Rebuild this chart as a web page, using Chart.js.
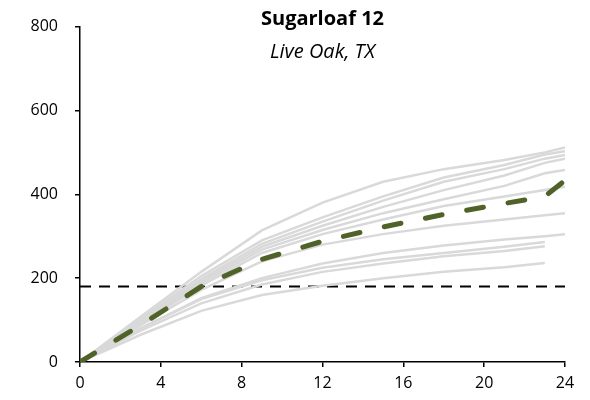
<!DOCTYPE html>
<html>
<head>
<meta charset="utf-8">
<script src="https://cdn.jsdelivr.net/npm/chart.js@4"></script>
<style>
    body { margin: 0; background: #fff; }
    #wrap { position: relative; width: 590px; height: 400px; }
    .title { position: absolute; left: 80px; width: 485px; text-align: center; color: #000; font-family: "Open Sans", sans-serif; }
    #title { top: 4px; font-size: 20px; font-weight: bold; }
    #subtitle { top: 37px; font-size: 20px; font-style: italic; }
</style>
</head>
<body>
<div id="wrap">
    <canvas id="chart" width="590" height="400"></canvas>
    <div class="title" id="title">Sugarloaf 12</div>
    <div class="title" id="subtitle">Live Oak, TX</div>
</div>
<script>
const months = [0, 3, 6, 9, 12, 15, 18, 21, 23, 24];
const xTicks = [0, 4, 8, 12, 16, 20, 24];
const yTicks = [0, 200, 400, 600, 800];
const threshold = 180;

// individual plots (grey), null = not measured
const plot1 = [0, 108, 215, 314, 380, 430, 460, 482, 500, 512];
const plot2 = [0, 104, 205, 290, 345, 395, 440, 470, 495, 503];
const plot3 = [0, 100, 198, 282, 335, 385, 430, 460, 485, 494];
const plot4 = [0, 98, 193, 275, 325, 370, 410, 445, 475, 485];
const plot5 = [0, 95, 188, 268, 315, 355, 388, 420, 450, 458];
const plot6 = [0, 92, 182, 260, 305, 340, 372, 395, 410, 418];
const plot7 = [0, 88, 172, 240, 280, 305, 325, 340, 350, 355];
const plot8 = [0, 80, 152, 200, 235, 260, 278, 292, 300, 305];
const plot9 = [0, 80, 150, 195, 225, 245, 260, 275, 286, null];
const plot10 = [0, 75, 140, 185, 215, 235, 252, 265, 276, null];
const plot11 = [0, 65, 122, 160, 182, 200, 215, 226, 236, null];
const plots = [plot1, plot2, plot3, plot4, plot5, plot6, plot7, plot8, plot9, plot10, plot11];

// average of plots (green dashed)
const average = [0, 88, 180, 245, 288, 322, 352, 378, 395, 433];

const toPoints = vals => months.map((m, i) => ({ x: m, y: vals[i] })).filter(p => p.y !== null);

const datasets = [{
    data: toPoints(average),
    borderColor: "#4f6228",
    borderWidth: 5,
    borderDash: [17, 25],
    borderCapStyle: "round",
    pointRadius: 0,
    order: 0
}];
plots.forEach(p => {
    datasets.push({
        data: toPoints(p),
        borderColor: "#d9d9d9",
        borderWidth: 2.5,
        pointRadius: 0,
        order: 1
    });
});
datasets.push({
    data: [{ x: 0, y: threshold }, { x: 24, y: threshold }],
    borderColor: "#000",
    borderWidth: 2,
    borderDash: [11, 8],
    pointRadius: 0,
    order: 2
});

const tickFont = { family: "Open Sans", size: 16 };

new Chart(document.getElementById("chart"), {
    type: "line",
    data: { datasets: datasets },
    options: {
        responsive: false,
        animation: false,
        layout: { padding: { left: 0, right: 25, top: 26, bottom: 0 } },
        plugins: { legend: { display: false }, tooltip: { enabled: false } },
        scales: {
            x: {
                type: "linear",
                min: 0,
                max: 24,
                afterBuildTicks: s => { s.ticks = xTicks.map(v => ({ value: v })); },
                afterFit: s => { s.height = 38; },
                ticks: { color: "#000", font: tickFont, padding: 7, maxRotation: 0 },
                grid: { display: true, drawOnChartArea: false, drawTicks: true, tickLength: 5, color: "#000", lineWidth: 1.5 },
                border: { color: "#000", width: 1.5 }
            },
            y: {
                min: 0,
                max: 800,
                afterBuildTicks: s => { s.ticks = yTicks.map(v => ({ value: v })); },
                afterFit: s => { s.width = 80; },
                ticks: { color: "#000", font: tickFont, padding: 17 },
                grid: { display: true, drawOnChartArea: false, drawTicks: true, tickLength: 5, color: "#000", lineWidth: 1.5 },
                border: { color: "#000", width: 1.5 }
            }
        }
    }
});
</script>
</body>
</html>
